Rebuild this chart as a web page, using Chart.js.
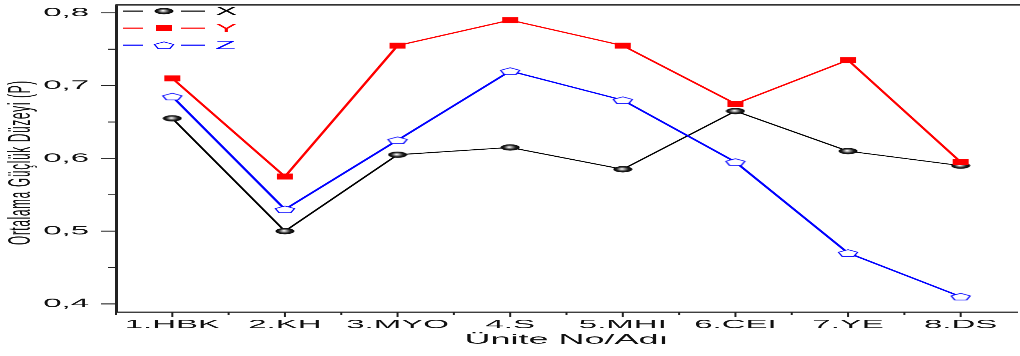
<!DOCTYPE html>
<html>
<head>
<meta charset="utf-8">
<script src="https://cdn.jsdelivr.net/npm/chart.js@4.4.0/dist/chart.umd.min.js"></script>
<style>
html,body{margin:0;padding:0;width:1020px;height:356px;overflow:hidden;background:#fff;}
#wrap{position:absolute;left:0;top:0;width:1030px;height:961px;transform:scaleY(0.370447);transform-origin:0 0;}
canvas{display:block;}
</style>
</head>
<body>
<div id="wrap"><canvas id="c" width="1030" height="961" style="width:1030px;height:961px"></canvas></div>
<script>
const categories = ['1.HBK','2.KH','3.MYO','4.S','5.MHI','6.CEI','7.YE','8.DS'];
const seriesNames = ['X','Y','Z'];
const xValues = [0.655,0.500,0.605,0.615,0.585,0.665,0.610,0.590];
const yValues = [0.710,0.575,0.755,0.790,0.755,0.675,0.735,0.595];
const zValues = [0.685,0.530,0.625,0.720,0.680,0.595,0.470,0.410];
const yTickValues = [0.4,0.5,0.6,0.7,0.8];
const yMinorValues = [0.45,0.55,0.65,0.75];
const xTitle = 'Ünite No/Adı';
const yTitle = 'Ortalama Güçlük Düzeyi (P)';

const FONT = '"Liberation Sans", Arial, sans-serif';

function makeSphere(){
  const c=document.createElement('canvas'); c.width=20; c.height=18;
  const g=c.getContext('2d');
  const grd=g.createRadialGradient(9,8,0.5,10,9,9.5);
  grd.addColorStop(0,'#ffffff');
  grd.addColorStop(0.25,'#9a9a9a');
  grd.addColorStop(0.6,'#202020');
  grd.addColorStop(1,'#000000');
  g.fillStyle=grd;
  g.beginPath(); g.ellipse(10,9,9.5,8.5,0,0,Math.PI*2); g.fill();
  return c;
}
function makePentagon(){
  const c=document.createElement('canvas'); c.width=24; c.height=22;
  const g=c.getContext('2d');
  g.beginPath();
  for(let k=0;k<5;k++){
    const a=-Math.PI/2+k*2*Math.PI/5;
    const px=12+10*Math.cos(a), py=12+10*Math.sin(a);
    if(k===0) g.moveTo(px,py); else g.lineTo(px,py);
  }
  g.closePath();
  g.fillStyle='#ffffff'; g.fill();
  g.strokeStyle='#0000ff'; g.lineWidth=1.6; g.stroke();
  return c;
}
const sphere=makeSphere();
const pentagon=makePentagon();

const colors=['#000000','#ff0000','#0000ff'];

const decorPlugin={
  id:'decor',
  afterDraw(chart){
    const ctx=chart.ctx, ca=chart.chartArea, xs=chart.scales.x, ys=chart.scales.y;
    ctx.save();
    // top border
    ctx.strokeStyle='#333'; ctx.lineWidth=4;
    ctx.beginPath(); ctx.moveTo(ca.left,ca.top); ctx.lineTo(ca.right+5,ca.top); ctx.stroke();
    // y ticks
    ctx.strokeStyle='#222'; ctx.lineWidth=2.6;
    yTickValues.forEach(v=>{const p=ys.getPixelForValue(v);ctx.beginPath();ctx.moveTo(ca.left,p);ctx.lineTo(ca.left-15,p);ctx.stroke();});
    yMinorValues.forEach(v=>{const p=ys.getPixelForValue(v);ctx.beginPath();ctx.moveTo(ca.left,p);ctx.lineTo(ca.left-8,p);ctx.stroke();});
    // x ticks
    ctx.lineWidth=2;
    categories.forEach((c,i)=>{
      const p=xs.getPixelForValue(i);
      ctx.beginPath();ctx.moveTo(p,ca.bottom);ctx.lineTo(p,ca.bottom+14);ctx.stroke();
      const m=xs.getPixelForValue(i-0.5);
      ctx.beginPath();ctx.moveTo(m,ca.bottom);ctx.lineTo(m,ca.bottom+9);ctx.stroke();
    });
    // titles
    ctx.fillStyle='#111';
    ctx.font='36px '+FONT; ctx.textAlign='center'; ctx.textBaseline='middle';
    ctx.fillText(xTitle,(ca.left+ca.right)/2,918);
    ctx.save();
    ctx.translate(21,439); ctx.rotate(-Math.PI/2);
    ctx.font='32px '+FONT;
    try{ctx.letterSpacing='1.8px';}catch(e){}
    ctx.fillText(yTitle,0,0);
    ctx.restore();
    // legend
    const rows=[30,76,122];
    chart.data.datasets.forEach((ds,i)=>{
      const y=rows[i];
      ctx.strokeStyle=ds.borderColor; ctx.lineWidth=3;
      ctx.beginPath();ctx.moveTo(123,y);ctx.lineTo(143,y);ctx.moveTo(181,y);ctx.lineTo(205,y);ctx.stroke();
      const ps=ds.pointStyle;
      if(ps==='rect'){ctx.fillStyle=ds.pointBackgroundColor;ctx.fillRect(164-8,y-8,16,16);}
      else {ctx.drawImage(ps,164-ps.width/2,y-ps.height/2);}
      ctx.fillStyle=ds.borderColor; ctx.font='34px '+FONT; ctx.textAlign='left'; ctx.textBaseline='middle';
      ctx.fillText(ds.label,215,y+2);
    });
    ctx.restore();
  }
};

new Chart(document.getElementById('c'),{
  type:'line',
  data:{
    labels:categories,
    datasets:[
      {label:seriesNames[0],data:xValues,borderColor:colors[0],borderWidth:2.5,pointStyle:sphere,pointRadius:9,order:2},
      {label:seriesNames[1],data:yValues,borderColor:colors[1],borderWidth:3,pointStyle:'rect',pointRadius:11.3,pointBackgroundColor:'#ff0000',pointBorderColor:'#ff0000',pointBorderWidth:0,order:0},
      {label:seriesNames[2],data:zValues,borderColor:colors[2],borderWidth:3,pointStyle:pentagon,pointRadius:10,order:1}
    ]
  },
  options:{
    responsive:false,
    animation:false,
    devicePixelRatio:1,
    layout:{padding:{top:11,right:5,left:0,bottom:0}},
    plugins:{legend:{display:false},tooltip:{enabled:false}},
    elements:{line:{tension:0}},
    scales:{
      x:{
        type:'category',offset:true,
        grid:{display:false},
        border:{display:true,width:3,color:'#333'},
        ticks:{color:'#111',font:{family:FONT,size:33},padding:7,maxRotation:0,autoSkip:false},
        afterFit(s){s.height=119;s.paddingLeft=0;s.paddingRight=0;}
      },
      y:{
        min:0.389,max:0.811,
        grid:{display:false},
        border:{display:true,width:3,color:'#222'},
        ticks:{color:'#111',font:{family:FONT,size:33},padding:19,callback:v=>v.toFixed(1).replace('.',',')},
        afterBuildTicks(s){s.ticks=yTickValues.map(v=>({value:v}));},
        afterFit(s){s.width=116;s.paddingTop=0;s.paddingBottom=0;}
      }
    }
  },
  plugins:[decorPlugin]
});
</script>
</body>
</html>
